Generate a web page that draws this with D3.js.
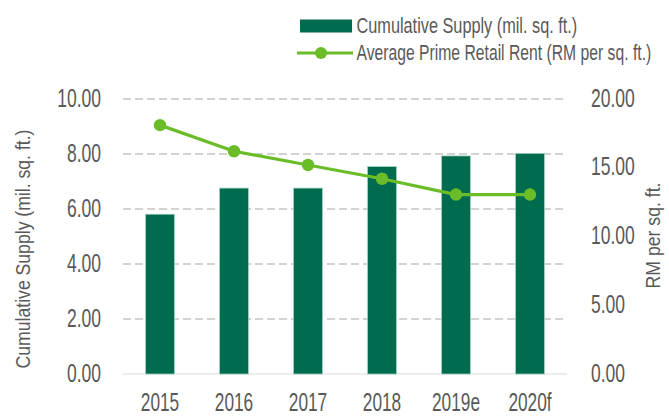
<!DOCTYPE html>
<html>
<head>
<meta charset="utf-8">
<script src="https://cdn.jsdelivr.net/npm/d3@7"></script>
<style>
  html, body { margin: 0; padding: 0; background: #fff; }
  svg { display: block; }
  text { font-family: "Liberation Sans", Arial, sans-serif; fill: #595959; }
</style>
</head>
<body>
<svg id="chart" width="669" height="417"></svg>
<script>
// Retail market: cumulative supply vs. prime rent
const years = ["2015", "2016", "2017", "2018", "2019e", "2020f"];
const supply = [5.81, 6.76, 6.76, 7.54, 7.93, 8.02];      // mil. sq. ft.
const rent = [18.1, 16.2, 15.2, 14.2, 13.05, 13.05];      // RM per sq. ft.
const leftTicks = [0, 2, 4, 6, 8, 10];
const rightTicks = [0, 5, 10, 15, 20];
const seriesNames = ["Cumulative Supply (mil. sq. ft.)", "Average Prime Retail Rent (RM per sq. ft.)"];
const leftTitle = "Cumulative Supply (mil. sq. ft.)";
const rightTitle = "RM per sq. ft.";

const barColor = "#006b4f";
const lineColor = "#6abd28";

const svg = d3.select("#chart");

const plot = { left: 123, right: 567, top: 99, bottom: 374 };

const x = d3.scaleBand().domain(years).range([plot.left, plot.right])
  .paddingInner(0.61).paddingOuter(0.305);
const yL = d3.scaleLinear().domain([0, 10]).range([plot.bottom, plot.top]);
const yR = d3.scaleLinear().domain([0, 20]).range([plot.bottom, plot.top]);

// Position a text at an anchor point and squeeze it horizontally (condensed look).
// opt.f = fixed squeeze factor, or opt.len = target drawn length.
function squeeze(sel, ax, ay, opt) {
  sel.each(function (d, i) {
    const t = d3.select(this).attr("x", 0).attr("y", 0);
    const natural = this.getComputedTextLength();
    const s = opt.len ? (typeof opt.len === "function" ? opt.len(d, i) : opt.len) / natural : opt.f;
    const px = typeof ax === "function" ? ax(d, i) : ax;
    const py = typeof ay === "function" ? ay(d, i) : ay;
    t.attr("transform", `translate(${px},${py}) rotate(${opt.rotate || 0}) scale(${s},1)`);
  });
}

// gridlines (dashed), baseline solid
svg.append("g").selectAll("line").data(leftTicks.filter(d => d > 0)).join("line")
  .attr("x1", plot.left).attr("x2", plot.right)
  .attr("y1", d => yL(d)).attr("y2", d => yL(d))
  .attr("stroke", "#c4c4c4").attr("stroke-width", 1.4).attr("stroke-dasharray", "8,4");
svg.append("line")
  .attr("x1", plot.left).attr("x2", plot.right)
  .attr("y1", yL(0)).attr("y2", yL(0))
  .attr("stroke", "#d9d9d9").attr("stroke-width", 1.2);

// bars
svg.append("g").selectAll("rect").data(years).join("rect")
  .attr("x", d => x(d)).attr("width", x.bandwidth())
  .attr("y", (d, i) => yL(supply[i]))
  .attr("height", (d, i) => yL(0) - yL(supply[i]))
  .attr("fill", barColor).attr("stroke", "#9fd3c0").attr("stroke-width", 0.7);

// rent line
const line = d3.line().x((d, i) => x(years[i]) + x.bandwidth() / 2).y(d => yR(d));
svg.append("path").datum(rent).attr("d", line)
  .attr("fill", "none").attr("stroke", lineColor).attr("stroke-width", 3.2)
  .attr("stroke-linejoin", "round");
svg.append("g").selectAll("circle").data(rent).join("circle")
  .attr("cx", (d, i) => x(years[i]) + x.bandwidth() / 2)
  .attr("cy", d => yR(d)).attr("r", 6.2).attr("fill", lineColor);

// left axis labels
svg.append("g").selectAll("text").data(leftTicks).join("text")
  .attr("dy", "0.29em").attr("text-anchor", "end").attr("font-size", 26.5)
  .text(d => d.toFixed(2))
  .call(squeeze, 101, d => yL(d), { f: 0.66 });

// right axis labels
svg.append("g").selectAll("text").data(rightTicks).join("text")
  .attr("dy", "0.29em").attr("text-anchor", "start").attr("font-size", 26.5)
  .text(d => d.toFixed(2))
  .call(squeeze, 591, d => yR(d), { f: 0.66 });

// category labels
svg.append("g").selectAll("text").data(years).join("text")
  .attr("text-anchor", "middle").attr("font-size", 26)
  .text(d => d)
  .call(squeeze, d => x(d) + x.bandwidth() / 2, 411, { f: 0.665 });

// axis titles
svg.append("text")
  .attr("text-anchor", "middle").attr("font-size", 21)
  .text(leftTitle).call(squeeze, 30, 249, { len: 239, rotate: -90 });
svg.append("text")
  .attr("text-anchor", "middle").attr("font-size", 19.5)
  .text(rightTitle).call(squeeze, 660, 235.5, { len: 106, rotate: -90 });

// legend
const lg = svg.append("g");
lg.append("rect").attr("x", 300).attr("y", 19.5).attr("width", 52).attr("height", 13).attr("fill", barColor);
lg.append("line").attr("x1", 297).attr("x2", 353).attr("y1", 53).attr("y2", 53)
  .attr("stroke", lineColor).attr("stroke-width", 3.2);
lg.append("circle").attr("cx", 321).attr("cy", 53).attr("r", 6).attr("fill", lineColor);
const legendLens = [221, 295];
lg.selectAll("text.lab").data(seriesNames).join("text")
  .attr("class", "lab").attr("font-size", 22.5).text(d => d)
  .call(squeeze, 356.5, (d, i) => [32.7, 60][i], { len: (d, i) => legendLens[i] });
</script>
</body>
</html>
